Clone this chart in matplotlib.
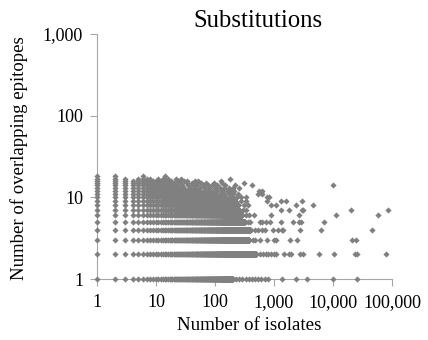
import matplotlib
matplotlib.use("Agg")
import matplotlib.pyplot as plt
from matplotlib.ticker import FuncFormatter, NullLocator

plt.rcParams['font.family'] = ['Liberation Serif', 'DejaVu Serif']

# number of overlapping epitopes (one row of points per value)
epitopes = list(range(1, 19))

# every isolate count from 1 up to this value is present in the row
dense_end = [200, 500, 380, 400, 320, 290, 260, 250, 220, 150,
             100, 55, 30, 22, 16, 12, 0, 0]

# scattered isolate counts beyond the dense run of each row
sparse_1 = [230, 260, 290, 330, 380, 420, 480, 540, 600, 700, 800, 1370, 2400, 3600, 9900, 25600]
sparse_2 = [580, 650, 720, 800, 900, 1000, 1100, 1450, 1800, 1950, 2800, 3100, 5800, 10200, 23500, 26000, 80000]
sparse_3 = [440, 480, 580, 760, 1000, 1100, 1900, 2500, 21000, 25000]
sparse_4 = [480, 540, 630, 710, 960, 1180, 1380, 1440, 2800, 6300, 46000]
sparse_5 = [360, 390, 570, 630, 720, 850, 1300, 2100, 2700, 2900, 7100]
sparse_6 = [330, 370, 450, 900, 2700, 11400, 59000]
sparse_7 = [300, 340, 1300, 1800, 3000, 3150, 19800, 84000]
sparse_8 = [310, 360, 900, 1100, 2400, 4600]
sparse_9 = [280, 330, 760, 1300, 1600, 3000]
sparse_10 = [180, 200, 240, 280, 330, 770, 820]
sparse_11 = [120, 140, 170, 200, 250, 540, 625]
sparse_12 = [65, 75, 90, 110, 130, 160, 190, 210, 550, 620]
sparse_13 = [38, 46, 55, 68, 80, 100, 120, 140, 170, 200, 260]
sparse_14 = [28, 35, 42, 50, 62, 75, 90, 110, 150, 220, 423, 10000]
sparse_15 = [20, 26, 33, 40, 48, 58, 70, 95, 130, 305]
sparse_16 = [15, 18, 24, 30, 34, 45, 52, 125]
sparse_17 = [1, 2, 3, 5, 6, 7, 8, 11, 13, 16, 22, 27, 181]
sparse_18 = [1, 2, 6, 14]

sparse = [sparse_1, sparse_2, sparse_3, sparse_4, sparse_5, sparse_6,
          sparse_7, sparse_8, sparse_9, sparse_10, sparse_11, sparse_12,
          sparse_13, sparse_14, sparse_15, sparse_16, sparse_17, sparse_18]

xs, ys = [], []
for y, end, extra in zip(epitopes, dense_end, sparse):
    row = list(range(1, end + 1)) + extra
    xs += row
    ys += [y] * len(row)

fig = plt.figure(figsize=(4.28, 3.40), dpi=100)
ax = fig.add_axes([97/428, 61/340, 295/428, 245/340])

ax.scatter(xs, ys, marker='D', s=10, color='#808080', linewidths=0,
           clip_on=False, zorder=3)

ax.set_xscale('log')
ax.set_yscale('log')
ax.set_xlim(1, 100000)
ax.set_ylim(1, 1000)
ax.set_xticks([1, 10, 100, 1000, 10000, 100000])
ax.set_yticks([1, 10, 100, 1000])
ax.xaxis.set_minor_locator(NullLocator())
ax.yaxis.set_minor_locator(NullLocator())
comma = FuncFormatter(lambda v, p: '{:,.0f}'.format(v))
ax.xaxis.set_major_formatter(comma)
ax.yaxis.set_major_formatter(comma)

for side in ['top', 'right']:
    ax.spines[side].set_visible(False)
for side in ['left', 'bottom']:
    ax.spines[side].set_color('#a6a6a6')
    ax.spines[side].set_linewidth(0.8)
ax.tick_params(length=5, width=0.8, color='#a6a6a6', labelsize=13,
               labelcolor='black')
ax.tick_params(axis='x', pad=6)
ax.tick_params(axis='y', pad=5)

fig.text(258/428, 1 - 21/340, 'Substitutions', ha='center', va='center', fontsize=17.8)
fig.text(249/428, 1 - 325/340, 'Number of isolates', ha='center', va='center', fontsize=13.7)
fig.text(19/428, 1 - 158/340, 'Number of overlapping epitopes', ha='center', va='center',
         rotation=90, fontsize=13.5)

plt.savefig('out.png', dpi=100)
